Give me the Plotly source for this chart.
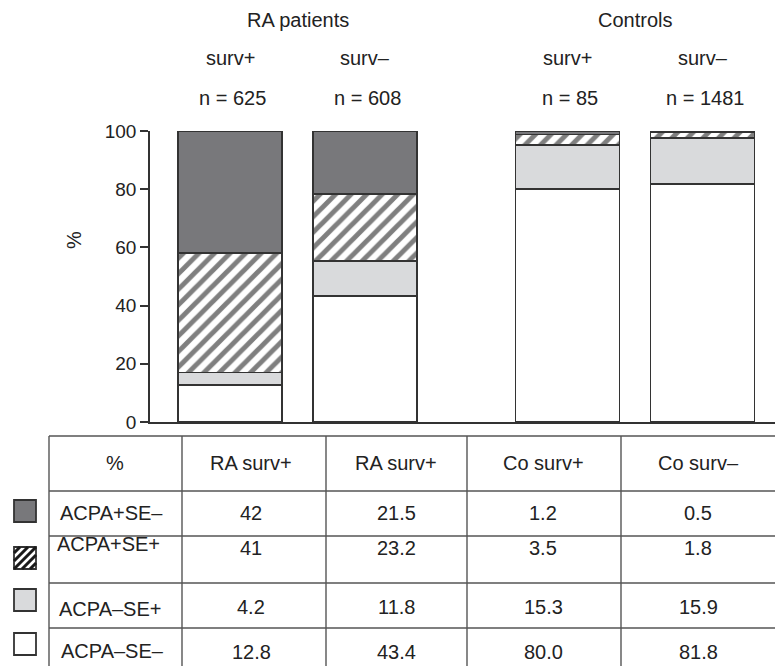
import plotly.graph_objects as go

# ---------------- data ----------------
groups = ["RA surv+", "RA surv–", "Co surv+", "Co surv–"]
group_titles = ["RA patients", "Controls"]
surv_labels = ["surv+", "surv–", "surv+", "surv–"]
n_labels = ["n = 625", "n = 608", "n = 85", "n = 1481"]
table_headers = ["%", "RA surv+", "RA surv+", "Co surv+", "Co surv–"]

categories = ["ACPA+SE–", "ACPA+SE+", "ACPA–SE+", "ACPA–SE–"]  # table order (top to bottom)
acpa_pos_se_neg = [42, 21.5, 1.2, 0.5]
acpa_pos_se_pos = [41, 23.2, 3.5, 1.8]
acpa_neg_se_pos = [4.2, 11.8, 15.3, 15.9]
acpa_neg_se_neg = [12.8, 43.4, 80.0, 81.8]
table_text = [
    ["42", "21.5", "1.2", "0.5"],
    ["41", "23.2", "3.5", "1.8"],
    ["4.2", "11.8", "15.3", "15.9"],
    ["12.8", "43.4", "80.0", "81.8"],
]

# ---------------- layout constants ----------------
W, H = 775, 666
L, R, T, B = 150, 0, 131, 244
PW, PH = W - L - R, H - T - B
xpos = [0, 1, 2.5, 3.5]
xrange_ = [-80 / 135, 545 / 135]
FONT = "Liberation Sans, Arial, sans-serif"
FS = 20
TXT = "#222222"
LINE = "#333333"
DARK = "#78787b"
LIGHT = "#d9dadc"


def px(x):
    return (x - L) / PW


def py(y):
    return (H - B - y) / PH


fig = go.Figure()

series = [
    ("ACPA–SE–", acpa_neg_se_neg, dict(color="white")),
    ("ACPA–SE+", acpa_neg_se_pos, dict(color=LIGHT)),
    ("ACPA+SE+", acpa_pos_se_pos, dict(color="white",
                                       pattern=dict(shape="/", fgcolor="#000000", bgcolor="white",
                                                    size=11, solidity=0.45))),
    ("ACPA+SE–", acpa_pos_se_neg, dict(color=DARK)),
]
for name, vals, mk in series:
    fig.add_trace(go.Bar(
        x=xpos, y=vals, name=name, width=0.77,
        marker=dict(**mk, line=dict(color=LINE, width=1.8)),
        showlegend=False, hoverinfo="skip",
    ))

fig.update_layout(
    barmode="stack",
    width=W, height=H,
    margin=dict(l=L, r=R, t=T, b=B, pad=0),
    paper_bgcolor="white", plot_bgcolor="white",
    font=dict(family=FONT, size=FS, color=TXT),
    xaxis=dict(range=xrange_, showgrid=False, zeroline=False, showticklabels=False,
               ticks="", showline=True, linecolor=LINE, linewidth=1.6, fixedrange=True),
    yaxis=dict(range=[0, 100], tickvals=[0, 20, 40, 60, 80, 100], showgrid=False,
               zeroline=False, showline=True, linecolor=LINE, linewidth=1.6,
               ticks="outside", ticklen=8, tickwidth=1.6, tickcolor=LINE,
               tickfont=dict(size=19, color=TXT), fixedrange=True),
)


def note(x, y, text, xref="paper", angle=0):
    return dict(x=x, y=y, xref=xref, yref="paper", text=text, showarrow=False,
                xanchor="center", yanchor="middle", textangle=angle,
                font=dict(size=FS, color=TXT, family=FONT))


ann = []
ann.append(note(px(74), py(240), "%", angle=-90))
ann.append(note((xpos[0] + xpos[1]) / 2, py(20), group_titles[0], xref="x"))
ann.append(note((xpos[2] + xpos[3]) / 2, py(20), group_titles[1], xref="x"))
for i in range(4):
    ann.append(note(xpos[i], py(58), surv_labels[i], xref="x"))
    ann.append(note(xpos[i] + 0.02, py(98), n_labels[i], xref="x"))

# ---------------- table ----------------
shapes = []
TL = "#555555"
col_x = [49, 182, 326, 467, 621, 775]
row_y = [436, 491, 536, 583, 628, 666]
for y in row_y[:-1]:
    shapes.append(dict(type="line", xref="paper", yref="paper", x0=px(col_x[0]), x1=px(W),
                       y0=py(y), y1=py(y), line=dict(color=TL, width=1.4)))
for x in col_x[:-1]:
    shapes.append(dict(type="line", xref="paper", yref="paper", x0=px(x), x1=px(x),
                       y0=py(row_y[0]), y1=py(H), line=dict(color=TL, width=1.4)))

col_cx = [115, 251, 396, 543, 698]
for j, h in enumerate(table_headers):
    ann.append(note(px(col_cx[j]), py(463), h))
row_text_y = [513, 548, 607, 652]
label_y = [513, 544, 609, 651]
label_cx = [111, 108, 110, 112]
for i, cat in enumerate(categories):
    ann.append(note(px(label_cx[i]), py(label_y[i]), cat))
    for j in range(4):
        ann.append(note(px(col_cx[j + 1]), py(row_text_y[i]), table_text[i][j]))

# legend swatches
sw = [(500, DARK), (547, None), (589, LIGHT), (633, "white")]
for top, col in sw:
    x0, x1, y0, y1 = 14, 36, top, top + 22
    shapes.append(dict(type="rect", xref="paper", yref="paper", x0=px(x0), x1=px(x1),
                       y0=py(y1), y1=py(y0), fillcolor=col if col else "white",
                       line=dict(color=LINE, width=1.8)))
    if col is None:
        for c in range(x0 + y0 + 6, x1 + y1, 8):
            xa = max(x0, c - y1)
            xb = min(x1, c - y0)
            shapes.append(dict(type="line", xref="paper", yref="paper",
                               x0=px(xa), y0=py(c - xa), x1=px(xb), y1=py(c - xb),
                               line=dict(color="#1a1a1a", width=3)))

fig.update_layout(annotations=ann, shapes=shapes)
fig.write_html("out.html", config={"displayModeBar": False},
               post_script="document.body.style.margin='0px';")
